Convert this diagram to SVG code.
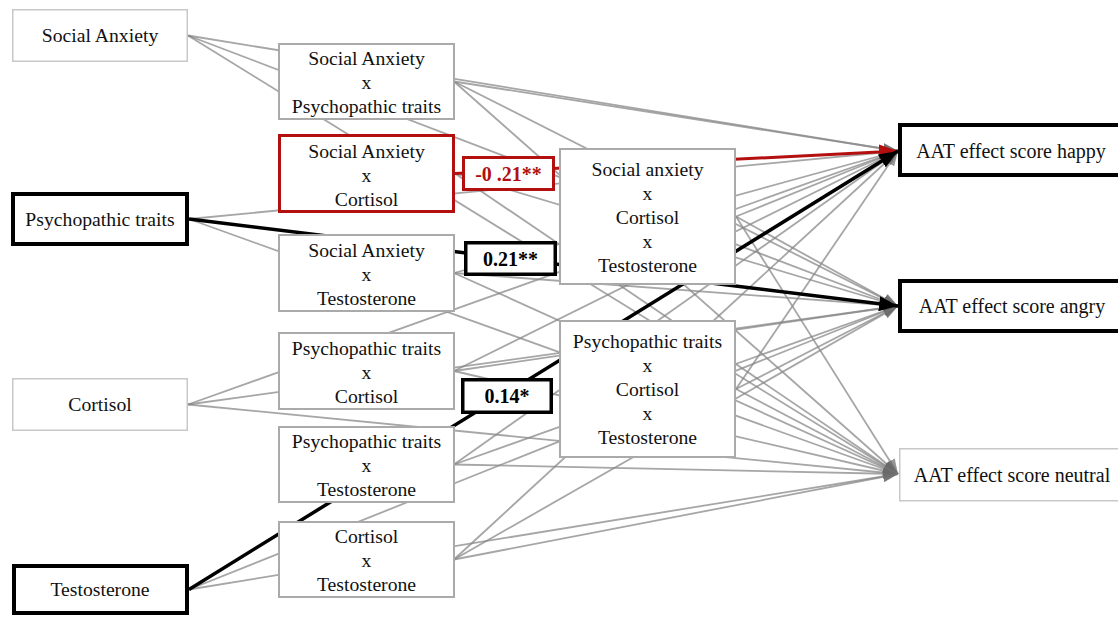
<svg xmlns="http://www.w3.org/2000/svg" width="1118" height="617" viewBox="0 0 1118 617">
<defs>
<style>
.t{font-family:"Liberation Serif","Times New Roman",serif;font-size:19.7px;fill:#111;text-anchor:middle}
.o{font-family:"Liberation Serif","Times New Roman",serif;font-size:20px;fill:#111;text-anchor:middle}
.lb{font-family:"Liberation Serif","Times New Roman",serif;font-size:20px;font-weight:bold;text-anchor:middle}
.light{fill:#fff;stroke:#c8c8c8;stroke-width:1.5}
.mid{fill:#fff;stroke:#aaaaaa;stroke-width:2}
.bold{fill:#fff;stroke:#000;stroke-width:4}
.red{fill:#fff;stroke:#b30f0f;stroke-width:3}
.g{stroke:#888;stroke-width:1.8;stroke-opacity:0.75;fill:none;marker-end:url(#ag)}
</style>
<marker id="ag" markerUnits="userSpaceOnUse" markerWidth="15" markerHeight="11" refX="15" refY="5.5" orient="auto"><path d="M0,0 L15,5.5 L0,11 z" fill="#6a6a6a" fill-opacity="0.7"/></marker>
<marker id="ak" markerUnits="userSpaceOnUse" markerWidth="19" markerHeight="15" refX="19" refY="7.5" orient="auto"><path d="M0,0 L19,7.5 L0,15 z" fill="#000"/></marker>
<marker id="ar" markerUnits="userSpaceOnUse" markerWidth="19" markerHeight="15" refX="19" refY="7.5" orient="auto"><path d="M0,0 L19,7.5 L0,15 z" fill="#b30f0f"/></marker>
</defs>
<rect width="1118" height="617" fill="#fff"/>
<g id="connectors">
<line class="g" x1="188" y1="35.5" x2="898" y2="151"/>
<line class="g" x1="188" y1="35.5" x2="898" y2="306"/>
<line class="g" x1="188" y1="35.5" x2="898" y2="474"/>
<line class="g" x1="189" y1="219" x2="898" y2="151"/>
<line class="g" x1="189" y1="219" x2="898" y2="474"/>
<line class="g" x1="188" y1="404.5" x2="898" y2="151"/>
<line class="g" x1="188" y1="404.5" x2="898" y2="306"/>
<line class="g" x1="188" y1="404.5" x2="898" y2="474"/>
<line class="g" x1="189" y1="589.5" x2="898" y2="306"/>
<line class="g" x1="189" y1="589.5" x2="898" y2="474"/>
<line class="g" x1="454" y1="81.5" x2="898" y2="151"/>
<line class="g" x1="454" y1="81.5" x2="898" y2="306"/>
<line class="g" x1="454" y1="81.5" x2="898" y2="474"/>
<line class="g" x1="455" y1="173.5" x2="898" y2="306"/>
<line class="g" x1="455" y1="173.5" x2="898" y2="474"/>
<line class="g" x1="454" y1="273" x2="898" y2="151"/>
<line class="g" x1="454" y1="273" x2="898" y2="306"/>
<line class="g" x1="454" y1="273" x2="898" y2="474"/>
<line class="g" x1="454" y1="371" x2="898" y2="151"/>
<line class="g" x1="454" y1="371" x2="898" y2="306"/>
<line class="g" x1="454" y1="371" x2="898" y2="474"/>
<line class="g" x1="454" y1="464.5" x2="898" y2="151"/>
<line class="g" x1="454" y1="464.5" x2="898" y2="306"/>
<line class="g" x1="454" y1="464.5" x2="898" y2="474"/>
<line class="g" x1="454" y1="559.5" x2="898" y2="151"/>
<line class="g" x1="454" y1="559.5" x2="898" y2="306"/>
<line class="g" x1="454" y1="559.5" x2="898" y2="474"/>
<line class="g" x1="736" y1="216.5" x2="898" y2="151"/>
<line class="g" x1="736" y1="216.5" x2="898" y2="306"/>
<line class="g" x1="736" y1="216.5" x2="898" y2="474"/>
<line class="g" x1="736" y1="389" x2="898" y2="151"/>
<line class="g" x1="736" y1="389" x2="898" y2="306"/>
<line class="g" x1="736" y1="389" x2="898" y2="474"/>
<line x1="455" y1="173.5" x2="898" y2="151" stroke="#b30f0f" stroke-width="3" marker-end="url(#ar)"/>
<line x1="189" y1="219" x2="898" y2="306" stroke="#000" stroke-width="3.5" marker-end="url(#ak)"/>
<line x1="189" y1="589.5" x2="898" y2="151" stroke="#000" stroke-width="3.5" marker-end="url(#ak)"/>
</g>
<g id="n-social-anxiety"><rect class="light" x="12.75" y="9.75" width="174.5" height="51.5"/><text class="t" x="100" y="42">Social Anxiety</text></g>
<g id="n-psychopathic-traits"><rect class="bold" x="13" y="194" width="174" height="50"/><text class="t" x="100" y="225.5">Psychopathic traits</text></g>
<g id="n-cortisol"><rect class="light" x="12.75" y="378.75" width="174.5" height="51.5"/><text class="t" x="100" y="411">Cortisol</text></g>
<g id="n-testosterone"><rect class="bold" x="14" y="566" width="173" height="47"/><text class="t" x="100" y="596">Testosterone</text></g>

<g id="n-sa-pt"><rect class="mid" x="279" y="44" width="175" height="75"/><text class="t" x="366.5" y="65">Social Anxiety</text><text class="t" x="366.5" y="89">x</text><text class="t" x="366.5" y="113">Psychopathic traits</text></g>
<g id="n-sa-c"><rect class="red" x="279.5" y="135.5" width="174" height="76"/><text class="t" x="366.5" y="157.5">Social Anxiety</text><text class="t" x="366.5" y="181.5">x</text><text class="t" x="366.5" y="205.5">Cortisol</text></g>
<g id="n-sa-t"><rect class="mid" x="279" y="235" width="175" height="76"/><text class="t" x="366.5" y="256.5">Social Anxiety</text><text class="t" x="366.5" y="280.5">x</text><text class="t" x="366.5" y="304.5">Testosterone</text></g>
<g id="n-pt-c"><rect class="mid" x="279" y="333" width="175" height="76"/><text class="t" x="366.5" y="354.5">Psychopathic traits</text><text class="t" x="366.5" y="378.5">x</text><text class="t" x="366.5" y="402.5">Cortisol</text></g>
<g id="n-pt-t"><rect class="mid" x="279" y="427" width="175" height="75"/><text class="t" x="366.5" y="448">Psychopathic traits</text><text class="t" x="366.5" y="472">x</text><text class="t" x="366.5" y="496">Testosterone</text></g>
<g id="n-c-t"><rect class="mid" x="279" y="522" width="175" height="75"/><text class="t" x="366.5" y="543">Cortisol</text><text class="t" x="366.5" y="567">x</text><text class="t" x="366.5" y="591">Testosterone</text></g>

<g id="n-sa-c-t"><rect class="mid" x="560" y="149" width="175" height="135"/><text class="t" x="647.5" y="175.5">Social anxiety</text><text class="t" x="647.5" y="199.5">x</text><text class="t" x="647.5" y="223.5">Cortisol</text><text class="t" x="647.5" y="247.5">x</text><text class="t" x="647.5" y="271.5">Testosterone</text></g>
<g id="n-pt-c-t"><rect class="mid" x="560" y="321" width="175" height="136"/><text class="t" x="647.5" y="348">Psychopathic traits</text><text class="t" x="647.5" y="372">x</text><text class="t" x="647.5" y="396">Cortisol</text><text class="t" x="647.5" y="420">x</text><text class="t" x="647.5" y="444">Testosterone</text></g>

<g id="n-happy"><rect class="bold" x="900" y="125" width="230" height="50"/><text class="o" x="1011" y="157.5">AAT effect score happy</text></g>
<g id="n-angry"><rect class="bold" x="900" y="281" width="230" height="50"/><text class="o" x="1012" y="313">AAT effect score angry</text></g>
<g id="n-neutral"><rect class="light" x="899.75" y="448.75" width="230" height="52"/><text class="o" x="1012" y="482">AAT effect score neutral</text></g>

<g id="labels">
<g id="l-red"><rect class="red" x="463.5" y="157.5" width="90" height="32"/><text class="lb" x="508.5" y="180.5" fill="#b30f0f">-0 .21**</text></g>
<g id="l-021"><rect fill="#fff" stroke="#000" stroke-width="3.5" x="465.75" y="242.75" width="89.5" height="31.5"/><text class="lb" x="510.5" y="265.5" fill="#000">0.21**</text></g>
<g id="l-014"><rect fill="#fff" stroke="#000" stroke-width="3.5" x="462.75" y="379.75" width="88.5" height="32.5"/><text class="lb" x="507" y="403" fill="#000">0.14*</text></g>
</g>
</svg>
